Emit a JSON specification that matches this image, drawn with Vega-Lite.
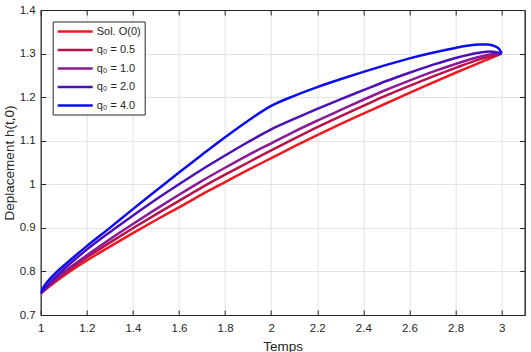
{
  "$schema": "https://vega.github.io/schema/vega-lite/v6.json",
  "width": 484,
  "height": 305,
  "autosize": "none",
  "padding": {"left": 40.7, "top": 10, "right": 6.3, "bottom": 37},
  "background": "white",
  "config": {
    "font": "Liberation Sans",
    "view": {"stroke": "#262626", "strokeWidth": 1},
    "axis": {
      "domainColor": "#262626",
      "tickColor": "#262626",
      "labelColor": "#262626",
      "titleColor": "#262626",
      "labelFont": "Liberation Sans",
      "titleFont": "Liberation Sans",
      "labelFontSize": 11.5,
      "titleFontSize": 13.5,
      "titleFontWeight": "normal",
      "gridColor": "#e3e3e3",
      "gridWidth": 1,
      "tickSize": -5,
      "tickWidth": 1
    }
  },
  "data": {
    "values": [
      {"s": "Sol. O(0)", "x": 1.0, "y": 0.75},
      {"s": "Sol. O(0)", "x": 1.1, "y": 0.79},
      {"s": "Sol. O(0)", "x": 1.2, "y": 0.825},
      {"s": "Sol. O(0)", "x": 1.3, "y": 0.857},
      {"s": "Sol. O(0)", "x": 1.4, "y": 0.888},
      {"s": "Sol. O(0)", "x": 1.5, "y": 0.918},
      {"s": "Sol. O(0)", "x": 1.6, "y": 0.947},
      {"s": "Sol. O(0)", "x": 1.7, "y": 0.977},
      {"s": "Sol. O(0)", "x": 1.8, "y": 1.005},
      {"s": "Sol. O(0)", "x": 1.9, "y": 1.033},
      {"s": "Sol. O(0)", "x": 2.0, "y": 1.06},
      {"s": "Sol. O(0)", "x": 2.1, "y": 1.087},
      {"s": "Sol. O(0)", "x": 2.2, "y": 1.113},
      {"s": "Sol. O(0)", "x": 2.3, "y": 1.138},
      {"s": "Sol. O(0)", "x": 2.4, "y": 1.162},
      {"s": "Sol. O(0)", "x": 2.5, "y": 1.186},
      {"s": "Sol. O(0)", "x": 2.6, "y": 1.21},
      {"s": "Sol. O(0)", "x": 2.7, "y": 1.233},
      {"s": "Sol. O(0)", "x": 2.8, "y": 1.256},
      {"s": "Sol. O(0)", "x": 2.9, "y": 1.278},
      {"s": "Sol. O(0)", "x": 3.0, "y": 1.3},

      {"s": "q₀ = 0.5", "x": 1.0, "y": 0.75},
      {"s": "q₀ = 0.5", "x": 1.1, "y": 0.794},
      {"s": "q₀ = 0.5", "x": 1.2, "y": 0.832},
      {"s": "q₀ = 0.5", "x": 1.3, "y": 0.866},
      {"s": "q₀ = 0.5", "x": 1.4, "y": 0.899},
      {"s": "q₀ = 0.5", "x": 1.5, "y": 0.931},
      {"s": "q₀ = 0.5", "x": 1.6, "y": 0.962},
      {"s": "q₀ = 0.5", "x": 1.7, "y": 0.993},
      {"s": "q₀ = 0.5", "x": 1.8, "y": 1.022},
      {"s": "q₀ = 0.5", "x": 1.9, "y": 1.05},
      {"s": "q₀ = 0.5", "x": 2.0, "y": 1.078},
      {"s": "q₀ = 0.5", "x": 2.1, "y": 1.105},
      {"s": "q₀ = 0.5", "x": 2.2, "y": 1.131},
      {"s": "q₀ = 0.5", "x": 2.3, "y": 1.156},
      {"s": "q₀ = 0.5", "x": 2.4, "y": 1.18},
      {"s": "q₀ = 0.5", "x": 2.5, "y": 1.204},
      {"s": "q₀ = 0.5", "x": 2.6, "y": 1.226},
      {"s": "q₀ = 0.5", "x": 2.7, "y": 1.247},
      {"s": "q₀ = 0.5", "x": 2.8, "y": 1.267},
      {"s": "q₀ = 0.5", "x": 2.9, "y": 1.286},
      {"s": "q₀ = 0.5", "x": 3.0, "y": 1.3},

      {"s": "q₀ = 1.0", "x": 1.0, "y": 0.75},
      {"s": "q₀ = 1.0", "x": 1.1, "y": 0.798},
      {"s": "q₀ = 1.0", "x": 1.2, "y": 0.837},
      {"s": "q₀ = 1.0", "x": 1.3, "y": 0.874},
      {"s": "q₀ = 1.0", "x": 1.4, "y": 0.909},
      {"s": "q₀ = 1.0", "x": 1.5, "y": 0.943},
      {"s": "q₀ = 1.0", "x": 1.6, "y": 0.976},
      {"s": "q₀ = 1.0", "x": 1.7, "y": 1.008},
      {"s": "q₀ = 1.0", "x": 1.8, "y": 1.038},
      {"s": "q₀ = 1.0", "x": 1.9, "y": 1.067},
      {"s": "q₀ = 1.0", "x": 2.0, "y": 1.094},
      {"s": "q₀ = 1.0", "x": 2.1, "y": 1.121},
      {"s": "q₀ = 1.0", "x": 2.2, "y": 1.146},
      {"s": "q₀ = 1.0", "x": 2.3, "y": 1.17},
      {"s": "q₀ = 1.0", "x": 2.4, "y": 1.194},
      {"s": "q₀ = 1.0", "x": 2.5, "y": 1.217},
      {"s": "q₀ = 1.0", "x": 2.6, "y": 1.238},
      {"s": "q₀ = 1.0", "x": 2.7, "y": 1.258},
      {"s": "q₀ = 1.0", "x": 2.8, "y": 1.276},
      {"s": "q₀ = 1.0", "x": 2.9, "y": 1.292},
      {"s": "q₀ = 1.0", "x": 2.95, "y": 1.298},
      {"s": "q₀ = 1.0", "x": 3.0, "y": 1.3},

      {"s": "q₀ = 2.0", "x": 1.0, "y": 0.75},
      {"s": "q₀ = 2.0", "x": 1.05, "y": 0.78},
      {"s": "q₀ = 2.0", "x": 1.1, "y": 0.805},
      {"s": "q₀ = 2.0", "x": 1.2, "y": 0.85},
      {"s": "q₀ = 2.0", "x": 1.3, "y": 0.89},
      {"s": "q₀ = 2.0", "x": 1.4, "y": 0.928},
      {"s": "q₀ = 2.0", "x": 1.5, "y": 0.965},
      {"s": "q₀ = 2.0", "x": 1.6, "y": 1.0},
      {"s": "q₀ = 2.0", "x": 1.7, "y": 1.034},
      {"s": "q₀ = 2.0", "x": 1.8, "y": 1.066},
      {"s": "q₀ = 2.0", "x": 1.9, "y": 1.097},
      {"s": "q₀ = 2.0", "x": 2.0, "y": 1.126},
      {"s": "q₀ = 2.0", "x": 2.1, "y": 1.15},
      {"s": "q₀ = 2.0", "x": 2.2, "y": 1.173},
      {"s": "q₀ = 2.0", "x": 2.3, "y": 1.195},
      {"s": "q₀ = 2.0", "x": 2.4, "y": 1.216},
      {"s": "q₀ = 2.0", "x": 2.5, "y": 1.237},
      {"s": "q₀ = 2.0", "x": 2.6, "y": 1.256},
      {"s": "q₀ = 2.0", "x": 2.7, "y": 1.274},
      {"s": "q₀ = 2.0", "x": 2.8, "y": 1.29},
      {"s": "q₀ = 2.0", "x": 2.9, "y": 1.302},
      {"s": "q₀ = 2.0", "x": 2.95, "y": 1.305},
      {"s": "q₀ = 2.0", "x": 3.0, "y": 1.3},

      {"s": "q₀ = 4.0", "x": 1.0, "y": 0.75},
      {"s": "q₀ = 4.0", "x": 1.01, "y": 0.762},
      {"s": "q₀ = 4.0", "x": 1.03, "y": 0.777},
      {"s": "q₀ = 4.0", "x": 1.06, "y": 0.794},
      {"s": "q₀ = 4.0", "x": 1.1, "y": 0.813},
      {"s": "q₀ = 4.0", "x": 1.15, "y": 0.836},
      {"s": "q₀ = 4.0", "x": 1.2, "y": 0.858},
      {"s": "q₀ = 4.0", "x": 1.3, "y": 0.9},
      {"s": "q₀ = 4.0", "x": 1.4, "y": 0.943},
      {"s": "q₀ = 4.0", "x": 1.5, "y": 0.985},
      {"s": "q₀ = 4.0", "x": 1.6, "y": 1.027},
      {"s": "q₀ = 4.0", "x": 1.7, "y": 1.068},
      {"s": "q₀ = 4.0", "x": 1.8, "y": 1.108},
      {"s": "q₀ = 4.0", "x": 1.9, "y": 1.146},
      {"s": "q₀ = 4.0", "x": 2.0, "y": 1.18},
      {"s": "q₀ = 4.0", "x": 2.1, "y": 1.203},
      {"s": "q₀ = 4.0", "x": 2.2, "y": 1.223},
      {"s": "q₀ = 4.0", "x": 2.3, "y": 1.241},
      {"s": "q₀ = 4.0", "x": 2.4, "y": 1.258},
      {"s": "q₀ = 4.0", "x": 2.5, "y": 1.274},
      {"s": "q₀ = 4.0", "x": 2.6, "y": 1.289},
      {"s": "q₀ = 4.0", "x": 2.7, "y": 1.302},
      {"s": "q₀ = 4.0", "x": 2.8, "y": 1.313},
      {"s": "q₀ = 4.0", "x": 2.85, "y": 1.318},
      {"s": "q₀ = 4.0", "x": 2.9, "y": 1.321},
      {"s": "q₀ = 4.0", "x": 2.94, "y": 1.321},
      {"s": "q₀ = 4.0", "x": 2.97, "y": 1.317},
      {"s": "q₀ = 4.0", "x": 2.99, "y": 1.31},
      {"s": "q₀ = 4.0", "x": 3.0, "y": 1.3}
    ]
  },
  "layer": [
    {
      "mark": {"type": "line", "strokeWidth": 2.5, "interpolate": "monotone", "clip": true},
      "encoding": {
        "x": {
          "field": "x", "type": "quantitative",
          "scale": {"domain": [1, 3.1], "nice": false, "zero": false},
          "axis": {"title": "Temps", "format": "~g", "values": [1, 1.2, 1.4, 1.6, 1.8, 2, 2.2, 2.4, 2.6, 2.8, 3], "labelPadding": 12, "titlePadding": 6, "grid": true, "labelFlush": false, "orient": "bottom"}
        },
        "y": {
          "field": "y", "type": "quantitative",
          "scale": {"domain": [0.7, 1.4], "nice": false, "zero": false},
          "axis": {"title": "Deplacement h(t,0)", "format": "~g", "values": [0.7, 0.8, 0.9, 1, 1.1, 1.2, 1.3, 1.4], "labelPadding": 10.5, "titlePadding": 3, "grid": true, "labelFlush": false, "orient": "left"}
        },
        "color": {
          "field": "s", "type": "nominal",
          "scale": {
            "domain": ["Sol. O(0)", "q₀ = 0.5", "q₀ = 1.0", "q₀ = 2.0", "q₀ = 4.0"],
            "range": ["#f01820", "#b8124c", "#8a1a96", "#4c10b8", "#0c0cf0"]
          },
          "legend": {
            "title": null,
            "orient": "none",
            "legendX": 12,
            "legendY": 11.5,
            "symbolType": "M-3.5,0H3.5",
            "symbolSize": 100,
            "symbolStrokeWidth": 2.5,
            "symbolOffset": 12.5,
            "labelFontSize": 11,
            "labelFont": "Liberation Sans",
            "labelColor": "#262626",
            "labelOffset": 15,
            "rowPadding": 6.5,
            "padding": 3.5,
            "strokeColor": "#262626",
            "fillColor": "white"
          }
        }
      }
    },
    {
      "mark": {"type": "line", "opacity": 0},
      "encoding": {
        "x": {
          "field": "x", "type": "quantitative",
          "axis": {"orient": "top", "title": null, "labels": false, "grid": false, "values": [1, 1.2, 1.4, 1.6, 1.8, 2, 2.2, 2.4, 2.6, 2.8, 3]}
        },
        "y": {
          "field": "y", "type": "quantitative",
          "axis": {"orient": "right", "title": null, "labels": false, "grid": false, "values": [0.7, 0.8, 0.9, 1, 1.1, 1.2, 1.3, 1.4]}
        }
      }
    }
  ],
  "resolve": {"axis": {"x": "independent", "y": "independent"}}
}
